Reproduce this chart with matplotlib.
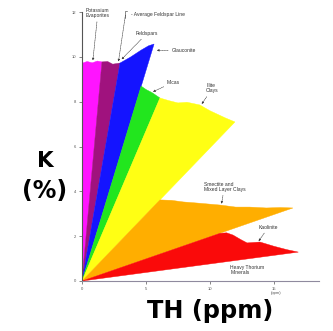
import matplotlib
matplotlib.use("Agg")
import matplotlib.pyplot as plt
from matplotlib.patches import Polygon

plt.rcParams['font.family'] = ['Liberation Sans', 'DejaVu Sans']

# top edges of each mineral zone (Th ppm, K %); every zone is a wedge from the origin
magenta_x = [0.0, 0.4, 0.8, 1.2, 1.56]
magenta_y = [9.72, 9.80, 9.74, 9.82, 9.78]
purple_x = [1.56, 2.0, 2.4, 2.97]
purple_y = [9.78, 9.80, 9.68, 9.73]
blue_x = [2.97, 3.8, 4.6, 5.2, 5.63]
blue_y = [9.73, 10.0, 10.3, 10.5, 10.58]
green_x = [4.62, 5.0, 5.5, 6.09]
green_y = [8.70, 8.55, 8.40, 8.17]
yellow_x = [6.09, 6.8, 7.5, 8.2, 9.2, 10.0, 11.2, 11.95]
yellow_y = [8.17, 8.05, 7.95, 7.98, 7.86, 7.6, 7.28, 7.10]
orange_x = [6.09, 7.0, 7.9, 9.0, 10.8, 12.0, 13.1, 14.4, 15.5, 16.48]
orange_y = [3.62, 3.60, 3.53, 3.48, 3.39, 3.30, 3.30, 3.26, 3.28, 3.26]
red_x = [10.78, 11.3, 11.8, 12.4, 12.9, 13.9, 15.0, 16.0, 16.9]
red_y = [2.13, 2.15, 2.05, 1.85, 1.70, 1.74, 1.55, 1.40, 1.29]

zones = [
    (magenta_x, magenta_y, "#ff14ff"),
    (purple_x, purple_y, "#a0127e"),
    (blue_x, blue_y, "#1414ff"),
    (green_x, green_y, "#22e61e"),
    (yellow_x, yellow_y, "#ffff14"),
    (orange_x, orange_y, "#ffae00"),
    (red_x, red_y, "#fa0a0a"),
]

x_ticks = [0, 5, 10, 15]
y_ticks = [0, 2, 4, 6, 8, 10, 12]

# labels: text, text pos, arrow target (None = no arrow)
labels = [
    ("Potassium\nEvaporites", (0.3, 11.95), (0.85, 9.85)),
    ("Feldspars", (4.2, 11.05), (3.1, 9.9)),
    ("Glauconite", (7.0, 10.3), (5.85, 10.3)),
    ("Micas", (6.65, 8.88), (5.55, 8.45)),
    ("Illite\nClays", (9.7, 8.6), (9.35, 7.9)),
    ("Smectite and\nMixed Layer Clays", (9.5, 4.2), (10.9, 3.45)),
    ("Kaolinite", (13.8, 2.4), (13.8, 1.78)),
    ("Heavy Thorium\nMinerals", (11.6, 0.5), None),
]

arrow_kw = dict(arrowstyle="-|>", lw=0.4, color="#333333", linestyle=(0, (2, 1)),
                mutation_scale=3, shrinkA=0.5, shrinkB=0)

fig = plt.figure(figsize=(3.33, 3.31), dpi=100)
ax = fig.add_axes([82 / 333, 50 / 331, 236.8 / 333, 268.8 / 331])

for xs, ys, col in zones:
    pts = [(0, 0)] + list(zip(xs, ys))
    ax.add_patch(Polygon(pts, closed=True, facecolor=col, edgecolor=col, lw=0.3))

ax.set_xlim(0, 18.5)
ax.set_ylim(0, 12)
for s in ["top", "right"]:
    ax.spines[s].set_visible(False)
ax.spines["left"].set_color("#555555")
ax.spines["left"].set_linewidth(0.8)
ax.spines["bottom"].set_color("#8f8a9e")
ax.spines["bottom"].set_linewidth(0.8)
ax.set_xticks(x_ticks)
ax.set_yticks(y_ticks)
ax.tick_params(length=2.5, width=0.5, labelsize=3, pad=1.5, colors="#555555")

for txt, pos, target in labels:
    if target is None:
        ax.text(pos[0], pos[1], txt, fontsize=3.6, color="#333333", va="center", ha="left",
                linespacing=1.0)
    else:
        ax.annotate(txt, xy=target, xytext=pos, fontsize=3.6, color="#333333",
                    va="center", ha="left", linespacing=1.0, arrowprops=arrow_kw)

# average feldspar line marker
ax.annotate("", xy=(2.85, 9.8), xytext=(3.4, 11.9), arrowprops=arrow_kw)
ax.plot([3.35, 3.35, 3.55], [11.75, 12.05, 12.05], color="#333333", lw=0.4, clip_on=False)
ax.text(3.8, 11.9, "- Average Feldspar Line", fontsize=3.6, color="#333333",
        va="center", ha="left")

ax.text(15.2, -0.55, "(ppm)", fontsize=3, color="#555555", ha="center", va="center",
        clip_on=False)

big = dict(fontweight="bold", family="DejaVu Sans", ha="center", va="baseline")
fig.text(45 / 333, 1 - 167 / 331, "K", fontsize=15.5, **big)
fig.text(45 / 333, 1 - 198 / 331, "(%)", fontsize=17, **big)
fig.text(210.5 / 333, 1 - 318 / 331, "TH (ppm)", fontsize=17.3, **big)

fig.savefig("out.png", dpi=100)
